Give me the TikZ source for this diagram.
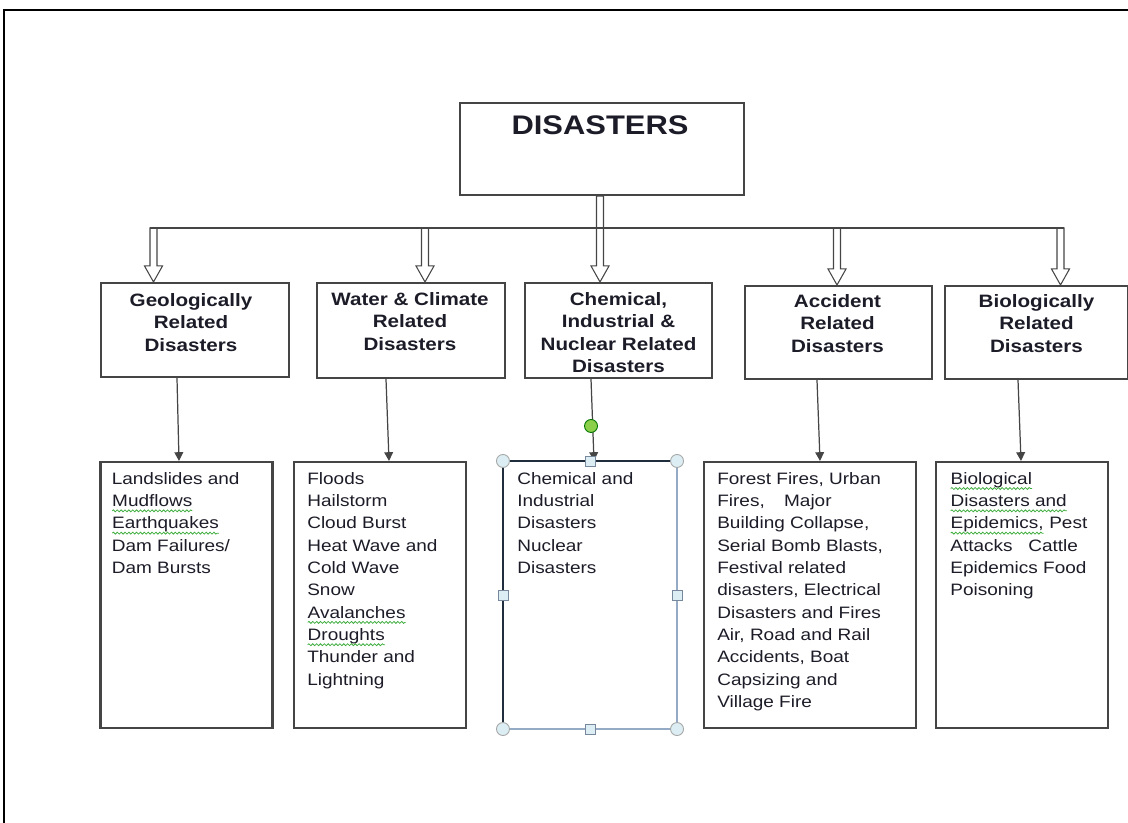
\documentclass[tikz,border=0pt]{standalone}
\usepackage{fontspec}
\setmainfont{Liberation Sans}[FakeStretch=1.15]
\usepackage{tikz}
\usetikzlibrary{calc,arrows.meta,positioning,decorations.pathmorphing}
\definecolor{boxline}{HTML}{454545}
\definecolor{inkx}{HTML}{1C1C28}
\definecolor{selblue}{HTML}{95AAC4}
\definecolor{selnavy}{HTML}{1F2D3D}
\definecolor{handlefill}{HTML}{DCEEF4}
\definecolor{rotgreen}{HTML}{8CCF4A}
\definecolor{spellgreen}{HTML}{3FAE3F}
\newcommand{\listfont}{\fontsize{9.4}{12.7}\selectfont}
\newcommand{\catfont}{\fontsize{10.2}{12.8}\selectfont\bfseries}
% wavy spell-check mark under a word
\newcommand{\spellmark}[1]{\tikz[baseline=(w.base),x=1pt,y=1pt]{%
  \node[inner sep=0pt,outer sep=0pt,anchor=base,font=\listfont,text=inkx] (w) at (0,0) {#1};
  \draw[spellgreen,line width=0.45pt,decorate,decoration={snake,amplitude=0.55pt,segment length=2.2pt}]
    ([yshift=-2.4pt]w.base west) -- ([yshift=-2.4pt]w.base east);}}
\tikzset{
  catbox/.style={draw=boxline,line width=1.2pt,minimum width=3.76cm,minimum height=1.88cm,inner sep=0pt},
  listbox/.style={draw=boxline,line width=1.2pt,minimum width=3.44cm,minimum height=5.32cm,inner sep=0pt},
  cattxt/.style={anchor=north,align=center,inner sep=0pt,font=\catfont,text=inkx},
  listtxt/.style={anchor=north west,align=left,inner sep=0pt,font=\listfont,text=inkx},
  hol/.style={draw=boxline,line width=0.6pt,line join=miter},
  link/.style={-{Triangle[length=5pt,width=5pt]},line width=0.7pt,boxline},
  hcirc/.style={draw=gray!70,fill=handlefill,line width=0.5pt},
  hsq/.style={draw=selblue!80!black,fill=handlefill,line width=0.5pt}
}

\begin{document}
\begin{tikzpicture}[x=0.02cm,y=-0.02cm]
\useasboundingbox (0,0) rectangle (1128,822);
\draw[line width=1.4pt] (1250,10) -- (4,10) -- (4,900);

% root
\node[catbox,minimum width=5.68cm,minimum height=1.84cm] (dis) at (602,149) {};
\node[anchor=base,inner sep=0pt,font=\fontsize{15.3}{18}\selectfont\bfseries,text=inkx] (distxt) at ($(dis.north)+(-2,33)$) {DISASTERS};

% groups
\node[catbox] (geo) at (195,330) {};
\node[catbox,minimum height=1.9cm] (wat) at (411,330.5) {};
\node[catbox,minimum width=3.74cm,minimum height=1.9cm] (chem) at (618.5,330.5) {};
\node[catbox,minimum width=3.74cm,minimum height=1.86cm] (acc) at (838.5,332.5) {};
\node[catbox,minimum width=3.66cm,minimum height=1.86cm] (bio) at (1036.5,332.5) {};

\node[cattxt] (geotxt) at ($(geo.north)+(-4,11)$) {Geologically\\Related\\Disasters};
\node[cattxt] (wattxt) at ($(wat.north)+(-1,10)$) {Water \& Climate\\Related\\Disasters};
\node[cattxt] (chemtxt) at ($(chem.north)+(0,10)$) {Chemical,\\Industrial \&\\Nuclear Related\\Disasters};
\node[cattxt] (acctxt) at ($(acc.north)+(-1,9)$) {Accident\\Related\\Disasters};
\node[cattxt] (biotxt) at ($(bio.north)+(0,9)$) {Biologically\\Related\\Disasters};

% lists
\node[listbox] (geoL) at (186.5,595) {};
\node[listbox] (watL) at (380,595) {};
\node[listbox,draw=none] (chemL) at (590,595) {};
\node[listbox,minimum width=4.24cm] (accL) at (810,595) {};
\node[listbox] (bioL) at (1022,595) {};

\node[listtxt] (geolist) at ($(geoL.north west)+(12,11)$) {Landslides and\\\spellmark{Mudflows}\\\spellmark{Earthquakes}\\Dam Failures/\\Dam Bursts};
\node[listtxt] (watlist) at ($(watL.north west)+(14,11)$) {Floods\\Hailstorm\\Cloud Burst\\Heat Wave and\\Cold Wave\\Snow\\\spellmark{Avalanches}\\\spellmark{Droughts}\\Thunder and\\Lightning};
\node[listtxt] (chemlist) at ($(chemL.north west)+(14,11)$) {Chemical and\\Industrial\\Disasters\\Nuclear\\Disasters};
\node[listtxt] (acclist) at ($(accL.north west)+(14,11)$) {Forest Fires, Urban\\Fires,\hspace{11pt}Major\\Building Collapse,\\Serial Bomb Blasts,\\Festival related\\disasters, Electrical\\Disasters and Fires\\Air, Road and Rail\\Accidents, Boat\\Capsizing and\\Village Fire};
\node[listtxt] (biolist) at ($(bioL.north west)+(15,11)$) {\spellmark{Biological}\\\spellmark{Disasters and}\\\spellmark{Epidemics,}\ Pest\\Attacks\hspace{9pt}Cattle\\Epidemics Food\\Poisoning};

% hollow arrows
\coordinate (bar1) at (153.5,228);
\coordinate (bar2) at (425,228);
\coordinate (bar3) at (837,228);
\coordinate (bar4) at (1060.5,228);
\foreach \bp/\nd in {bar1/geo,bar2/wat,bar3/acc,bar4/bio}
  \draw[hol] (\bp |- \nd.north) -- ++(-9,-16) -- ++(5.5,0) |- (\bp) -- ++(3.5,0) |- ($(\bp |- \nd.north)+(9,-16)$) -- cycle;
\path (dis.south) ++(-2,0) coordinate (stem);
\draw[hol] (stem |- chem.north) -- ++(-9,-16) -- ++(5.5,0) |- (stem) -- ++(3.5,0) |- ($(stem |- chem.north)+(9,-16)$) -- cycle;
\draw[hol] ([xshift=-.07cm]bar1) -- ([xshift=.07cm]bar4);

% links
\draw[link] (177,0 |- geo.south) -- (179,0 |- geoL.north);
\draw[link] (386,0 |- wat.south) -- (389,0 |- watL.north);
\draw[link] (591,0 |- chem.south) -- (594,0 |- chemL.north);
\draw[link] (817,0 |- acc.south) -- (820,0 |- accL.north);
\draw[link] (1018,0 |- bio.south) -- (1021,0 |- bioL.north);

% selected box
\draw[selblue,line width=0.9pt] (chemL.north east) -- (chemL.south east) -- (chemL.south west);
\draw[selnavy,line width=1.3pt] (chemL.south west) -- (chemL.north west) -- (chemL.north east);
\draw[draw=green!45!black,fill=rotgreen,line width=0.5pt] ($(chemL.north)+(1,-35)$) circle (.13cm);
\foreach \c in {north west,north east,south west,south east}
  \draw[hcirc] (chemL.\c) circle (.13cm);
\foreach \c in {north,south,west,east}
  \draw[hsq] ([shift={(-.1cm,-.1cm)}]chemL.\c) rectangle ++(.2cm,.2cm);
\end{tikzpicture}
\end{document}
